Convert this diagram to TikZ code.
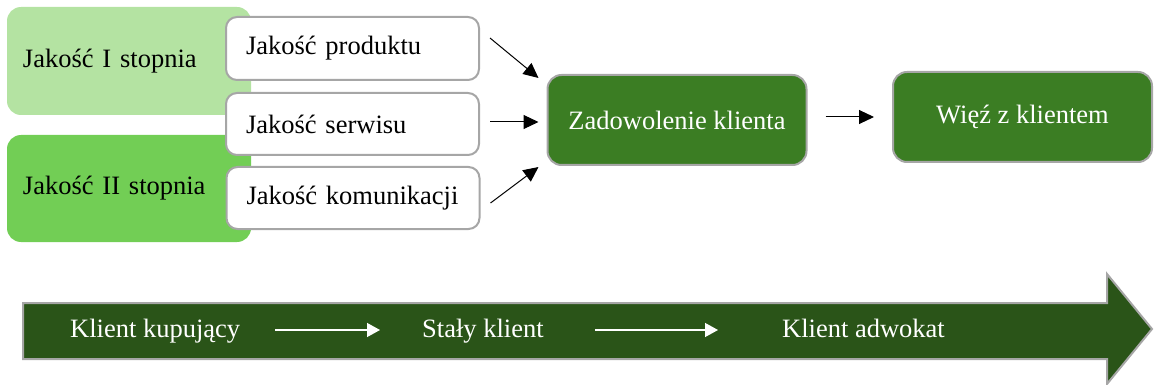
\documentclass[tikz,border=0pt]{standalone}
\usepackage{fontspec}
\setmainfont{Liberation Serif}
\usetikzlibrary{arrows.meta}
\definecolor{lightq}{HTML}{B4E3A2}
\definecolor{midq}{HTML}{72CE55}
\definecolor{darkbox}{HTML}{3B7D23}
\definecolor{bandgreen}{HTML}{2A5418}
\definecolor{edgegray}{HTML}{A6A6A6}
\begin{document}
\begin{tikzpicture}[x=1pt,y=-1pt,
  every node/.style={font=\fontsize{26.5}{30}\selectfont},
  levelbox/.style={rounded corners=14pt, minimum width=244pt, inner xsep=16pt, text width=212pt, align=left, draw=none},
  qualbox/.style={rounded corners=11pt, fill=white, draw=edgegray, line width=2pt, minimum width=253pt, inner xsep=20pt, text width=213pt, align=left},
  greenbox/.style={rounded corners=14pt, fill=darkbox, draw=edgegray, line width=2pt, text=white, minimum width=259pt, minimum height=90pt},
  blackarrow/.style={line width=1pt, -{Triangle[length=15pt,width=14pt]}},
  whitearrow/.style={draw=white, line width=1.4pt, -{Triangle[length=13pt,width=14pt]}},
  bandtext/.style={text=white, inner sep=0pt, anchor=base west}]
\useasboundingbox (0,0) rectangle (1154,385);

% quality levels
\node[levelbox, fill=lightq, minimum height=108pt] (q1) at (129,61) {Jakość I stopnia};
\node[levelbox, fill=midq, minimum height=107pt] (q2) at (129,188.5) {Jakość II stopnia};

% quality components
\node[qualbox, minimum height=63pt] (prod) at (352.5,48.5) {Jakość produktu};
\node[qualbox, minimum height=62pt] (serw) at (352.5,124) {Jakość serwisu};
\node[qualbox, minimum height=62pt] (kom) at (353,198) {\mbox{Jakość komunikacji}};

% outcomes
\node[greenbox] (zad) at (677,120) {Zadowolenie klienta};
\node[greenbox] (wiez) at (1022.5,117) {Więź z klientem};

\draw[blackarrow] ([xshift=10pt,yshift=10.5pt]prod.east) -- ([xshift=-8pt,yshift=42pt]zad.west);
\draw[blackarrow] ([xshift=10pt,yshift=2pt]serw.east) -- ([xshift=-8pt,yshift=-2pt]zad.west);
\draw[blackarrow] ([xshift=10pt,yshift=-5pt]kom.east) -- ([xshift=-8pt,yshift=-47pt]zad.west);
\draw[blackarrow] ([xshift=18pt,yshift=3pt]zad.east) -- ([xshift=-18pt]wiez.west);

% customer path band
\path[fill=bandgreen, draw=edgegray, line width=2pt, line join=miter]
  (23,303) -- (1107,303) -- (1107,274) -- (1152,329) -- (1107,384) -- (1107,359) -- (23,359) -- cycle;
\node[bandtext] (kup) at (70,337) {Klient kupujący};
\node[bandtext] (staly) at (422,337) {Stały klient};
\node[bandtext] (adw) at (782,337) {Klient adwokat};
\draw[whitearrow] ([xshift=35pt,yshift=7pt]kup.base east) -- ([xshift=-42pt,yshift=7pt]staly.base west);
\draw[whitearrow] ([xshift=51pt,yshift=7pt]staly.base east) -- ([xshift=-64pt,yshift=7pt]adw.base west);
\end{tikzpicture}
\end{document}
